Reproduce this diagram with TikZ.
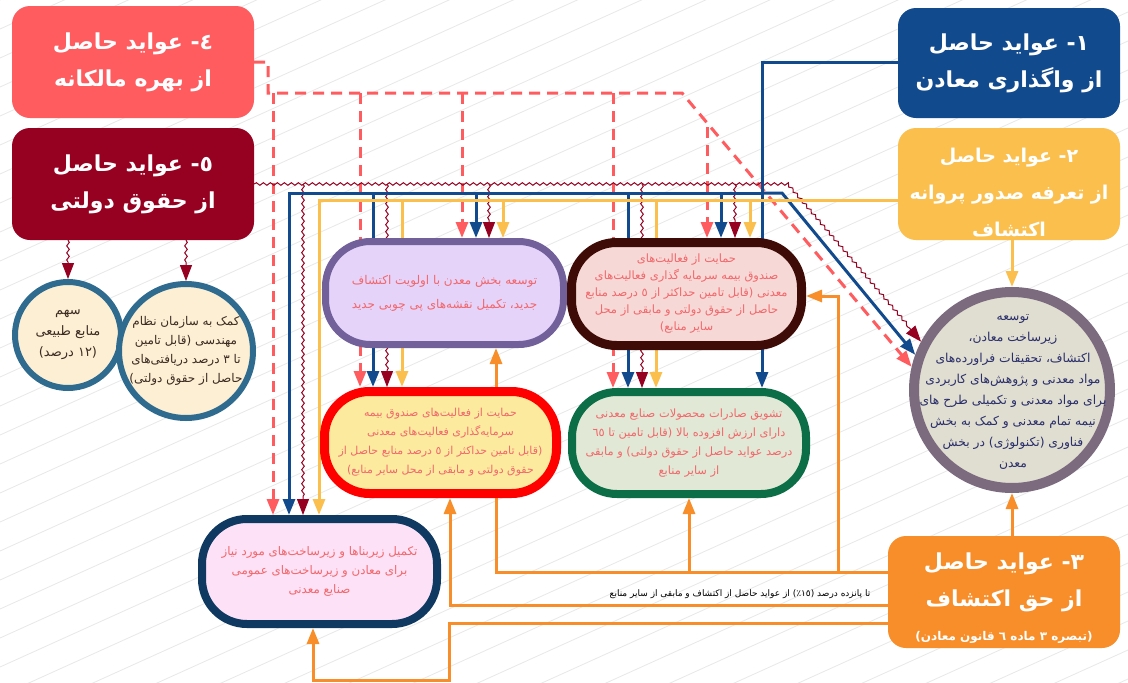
\documentclass[tikz,border=0pt]{standalone}
\usepackage{fontspec}
\usetikzlibrary{arrows.meta,decorations.pathmorphing}
\newfontfamily\fa[Script=Arabic]{DejaVu Sans}
\TeXXeTstate=1
\newcommand\rl[1]{\beginR #1\endR}
\definecolor{cblue}{HTML}{124A8E}
\definecolor{cyel}{HTML}{FBBF4D}
\definecolor{corg}{HTML}{F78E29}
\definecolor{csal}{HTML}{FF5C60}
\definecolor{ccrim}{HTML}{960021}
\definecolor{stx}{HTML}{F2676B}
\definecolor{ctx}{HTML}{2A2F6A}
\definecolor{cbr}{HTML}{3B2B22}
\definecolor{cfill}{HTML}{FCEFD3}
\definecolor{cring}{HTML}{2F6A8F}
\definecolor{bigfill}{HTML}{E0DDD1}
\definecolor{bigring}{HTML}{7C6B7E}
\definecolor{pafill}{HTML}{E5D3FA}
\definecolor{paring}{HTML}{72609B}
\definecolor{pbfill}{HTML}{F6D9D6}
\definecolor{pbring}{HTML}{3E0B06}
\definecolor{pcfill}{HTML}{FCEB9F}
\definecolor{pcring}{HTML}{FF0000}
\definecolor{pdfill}{HTML}{E1E8D5}
\definecolor{pdring}{HTML}{0B6E47}
\definecolor{pefill}{HTML}{FDE1F6}
\definecolor{pering}{HTML}{0F3961}
\pgfdeclarelayer{hatch}
\pgfdeclarelayer{links}
\pgfsetlayers{hatch,links,main}
\tikzset{
  hbox/.style={rounded corners=18pt, text=white, align=center, inner sep=0pt,
    font=\fa\bfseries\fontsize{22}{37}\selectfont},
  htext/.style={text=white, align=center, inner sep=0pt,
    font=\fa\bfseries\fontsize{22}{37}\selectfont},
  stad/.style={rounded corners=45pt, align=center, text=stx, inner sep=0pt,
    font=\fa\fontsize{11}{18}\selectfont},
  rnd/.style={circle, inner sep=0pt, fill=cfill, draw=cring, line width=6pt},
  rtext/.style={align=center, inner sep=0pt, text=cbr, font=\fa\fontsize{12}{19}\selectfont},
  arw/.style={-{Triangle[width=12pt,length=16pt]}},
  bl/.style={draw=cblue, line width=3pt, arw},
  yl/.style={draw=cyel, line width=3pt, arw},
  og/.style={draw=corg, line width=3pt, arw},
  sl/.style={draw=csal, line width=3pt, dash pattern=on 11pt off 7pt, arw},
  cr/.style={draw=ccrim, line width=1pt, decorate,
    decoration={snake, amplitude=1.3pt, segment length=7pt, post length=16pt}, arw},
}
\begin{document}
\begin{tikzpicture}[x=1pt,y=-1pt]
\useasboundingbox (0,0) rectangle (1128,683);
\begin{pgfonlayer}{hatch}
  \fill[white] (0,0) rectangle (1128,683);
  \begin{scope}
    \clip (0,0) rectangle (1128,683);
    \foreach \i in {0,...,42} \draw[black!9, line width=0.8pt] (0,\i*29) -- (1128,\i*29-510);
  \end{scope}
\end{pgfonlayer}

% header boxes
\node[hbox, fill=cblue, minimum width=222pt, minimum height=110pt] (b1) at (1009,63)
  {\rl{١- عواید حاصل}\\\rl{از واگذاری معادن}};
\node[hbox, fill=cyel, minimum width=222pt, minimum height=112pt] (b2) at (1009,184) {};
\node[htext, font=\fa\bfseries\fontsize{19}{37}\selectfont] (b2t) at (1009,193)
  {\rl{٢- عواید حاصل}\\\rl{از تعرفه صدور پروانه}\\\rl{اکتشاف}};
\node[hbox, fill=corg, minimum width=232pt, minimum height=112pt] (b3) at (1004,592) {};
\node[htext, anchor=base] (b3t1) at (1004,569) {\rl{٣- عواید حاصل}};
\node[htext, anchor=base] (b3t2) at (1004,606) {\rl{از حق اکتشاف}};
\node[htext, anchor=base, font=\fa\bfseries\fontsize{12}{16}\selectfont] (b3t3) at (1004,640) {\rl{(تبصره ٣ ماده ٦ قانون معادن)}};
\node[hbox, fill=csal, minimum width=242pt, minimum height=112pt] (b4) at (133,62)
  {\rl{٤- عواید حاصل}\\\rl{از بهره مالکانه}};
\node[hbox, fill=ccrim, minimum width=242pt, minimum height=112pt] (b5) at (133,184)
  {\rl{٥- عواید حاصل}\\\rl{از حقوق دولتی}};

% circles
\node[rnd, minimum size=106pt] (c1) at (68,335) {};
\node[rtext, font=\fa\fontsize{13}{21}\selectfont] (c1t) at (68,335)
  {\rl{سهم}\\\rl{منابع طبیعی}\\\rl{(١٢ درصد)}};
\node[rnd, minimum size=134pt] (c2) at (186,351) {};
\node[rtext, font=\fa\fontsize{12}{19}\selectfont] (c2t) at (186,351)
  {\rl{کمک به سازمان نظام}\\\rl{مهندسی (قابل تامین}\\\rl{تا ٣ درصد دریافتی‌های}\\\rl{حاصل از حقوق دولتی)}};
\node[circle, inner sep=0pt, fill=bigfill, draw=bigring, line width=10pt, minimum size=196pt] (circ) at (1012,390) {};
\node[align=center, inner sep=0pt, text=ctx, font=\fa\fontsize{12.3}{21}\selectfont] (circt) at (1013,392)
  {\rl{توسعه}\\\rl{زیرساخت معادن،}\\\rl{اکتشاف، تحقیقات فراورده‌های}\\\rl{مواد معدنی و پژوهش‌های کاربردی}\\\rl{برای مواد معدنی و تکمیلی طرح های}\\\rl{نیمه تمام معدنی و کمک به بخش}\\\rl{فناوری (تکنولوژی) در بخش}\\\rl{معدن}};

% stadiums
\node[stad, fill=pafill, draw=paring, line width=7pt, minimum width=238pt, minimum height=103pt,
  font=\fa\fontsize{12}{24}\selectfont] (p1) at (444.5,293)
  {\rl{توسعه بخش معدن با اولویت اکتشاف}\\\rl{جدید، تکمیل نقشه‌های  پی چوبی جدید}};
\node[stad, fill=pbfill, draw=pbring, line width=9pt, minimum width=230pt, minimum height=103pt,
  font=\fa\fontsize{11.5}{17}\selectfont] (p2) at (686.5,294)
  {\rl{حمایت از فعالیت‌های}\\\rl{صندوق بیمه سرمایه گذاری فعالیت‌های}\\\rl{معدنی (قابل تامین حداکثر از ٥ درصد منابع}\\\rl{حاصل از حقوق دولتی و مابقی از محل}\\\rl{سایر منابع)}};
\node[stad, fill=pcfill, draw=pcring, line width=9pt, minimum width=232pt, minimum height=102pt,
  font=\fa\fontsize{11}{19}\selectfont] (p3) at (440.5,442.5)
  {\rl{حمایت از فعالیت‌های صندوق بیمه}\\\rl{سرمایه‌گذاری فعالیت‌های معدنی}\\\rl{(قابل تامین حداکثر از ٥ درصد منابع حاصل از}\\\rl{حقوق دولتی و مابقی از محل سایر منابع)}};
\node[stad, fill=pdfill, draw=pdring, line width=8pt, minimum width=234pt, minimum height=102pt,
  font=\fa\fontsize{11.4}{19}\selectfont] (p4) at (689,443)
  {\rl{تشویق صادرات محصولات صنایع معدنی}\\\rl{دارای ارزش افزوده بالا (قابل تامین تا ٦٥}\\\rl{درصد عواید حاصل از حقوق دولتی) و مابقی}\\\rl{از سایر منابع}};
\node[stad, fill=pefill, draw=pering, line width=8pt, minimum width=235pt, minimum height=105pt,
  font=\fa\fontsize{11.8}{19}\selectfont] (p5) at (319.5,571.5)
  {\rl{تکمیل زیربناها و زیرساخت‌های مورد نیاز}\\\rl{برای معادن و زیرساخت‌های عمومی}\\\rl{صنایع معدنی}};

\node[font=\fa\fontsize{9}{11}\selectfont, inner sep=0pt] (lab) at (740,594)
  {\rl{تا پانزده درصد (١٥٪) از عواید حاصل از اکتشاف و مابقی از سایر منابع}};

\begin{pgfonlayer}{links}
  % salmon dashed from box 4
  \draw[sl] (b4.east |- 0,62) -- (268,62) -- (268,93) -- (682,93) -- (circ.167);
  \draw[sl] (273,93) -- (p5.north -| 273,0);
  \draw[sl] (360,93) -- (p3.north -| 360,0);
  \draw[sl] (462,93) -- (p1.north -| 462,0);
  \draw[sl] (613,93) -- (p4.north -| 613,0);
  \draw[sl] (707,127) -- (p2.north -| 707,0);
  % crimson wavy from box 5
  \draw[cr] (b5.east) -- (787,184) -- (circ.152);
  \draw[cr] (303,184) -- (p5.north -| 303,0);
  \draw[cr] (387,184) -- (p3.north -| 387,0);
  \draw[cr] (489,184) -- (p1.north -| 489,0);
  \draw[cr] (642,184) -- (p4.north -| 642,0);
  \draw[cr] (735,184) -- (p2.north -| 735,0);
  \draw[cr] (b5.south -| c1.north) -- (c1.north);
  \draw[cr] (b5.south -| c2.north) -- (c2.north);
  % blue from box 1
  \draw[bl] (b1.west |- 0,62) -- (762,62) -- (p4.north -| 762,0);
  \draw[bl] (762,193) -- (289,193) -- (p5.north -| 289,0);
  \draw[bl] (762,193) -- (782,193) -- (circ.160);
  \draw[bl] (373,193) -- (p3.north -| 373,0);
  \draw[bl] (476,193) -- (p1.north -| 476,0);
  \draw[bl] (628,193) -- (p4.north -| 628,0);
  \draw[bl] (721,193) -- (p2.north -| 721,0);
  % yellow from box 2
  \draw[yl] (b2.west |- 0,200) -- (319,200) -- (p5.north -| 319,0);
  \draw[yl] (402,200) -- (p3.north -| 402,0);
  \draw[yl] (503,200) -- (p1.north -| 503,0);
  \draw[yl] (656,200) -- (p4.north -| 656,0);
  \draw[yl] (750,200) -- (p2.north -| 750,0);
  \draw[yl] (b2.south -| circ.north) -- (circ.north);
  % orange from box 3
  \draw[og] (b3.north -| circ.south) -- (circ.south);
  \draw[og] (b3.west |- 0,572) -- (496,572) -- (p1.south -| 496,0);
  \draw[og] (689,572) -- (p4.south -| 689,0);
  \draw[og] (838,572) -- (838,296) -- (p2.east |- 0,296);
  \draw[og] (b3.west |- 0,605) -- (450,605) -- (p3.south -| 450,0);
  \draw[og] (b3.west |- 0,623) -- (449,623) -- (449,680) -- (313,680) -- (p5.south -| 313,0);
\end{pgfonlayer}
\end{tikzpicture}
\end{document}
